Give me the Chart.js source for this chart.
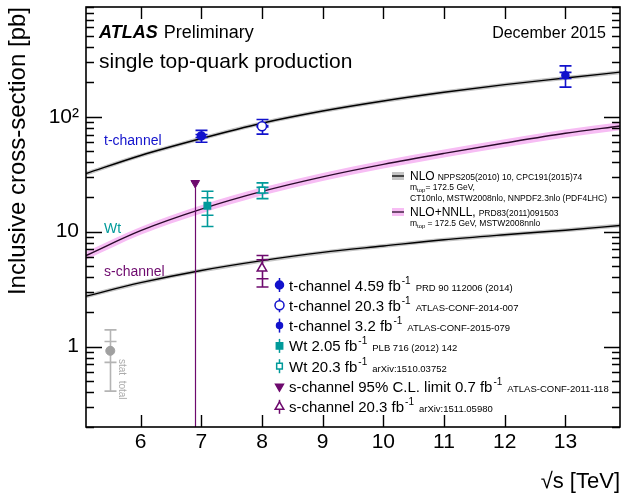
<!DOCTYPE html>
<html><head><meta charset="utf-8">
<script src="https://cdn.jsdelivr.net/npm/chart.js@4.4.1/dist/chart.umd.min.js"></script>
<style>html,body{margin:0;padding:0;background:#fff;}#wrap{width:622px;height:495px;position:relative;}</style>
</head><body><div id="wrap"><canvas id="c"></canvas></div>
<script>
// ---------- data ----------
const energies = [5.1, 6, 7, 8, 9, 10, 11, 12, 13, 13.9];
const tChannelNLO    = [32, 46, 64.6, 87.8, 112, 137, 163, 190, 217, 244];
const tChannelNLOUp  = [33.3, 47.8, 67.2, 91.3, 116.5, 142.5, 169.5, 197.6, 225.7, 253.8];
const tChannelNLODn  = [30.7, 44.2, 62.0, 84.3, 107.5, 131.5, 156.5, 182.4, 208.3, 234.2];
const wtNNLL   = [6.2, 10.2, 15.7, 22.4, 30, 38.5, 48, 59, 71.7, 83];
const wtNNLLUp = [6.7, 11.0, 17.0, 24.2, 32.4, 41.6, 51.8, 63.7, 77.4, 89.6];
const wtNNLLDn = [5.7, 9.4, 14.4, 20.6, 27.6, 35.4, 44.2, 54.3, 66.0, 76.4];
const sChannelNLO   = [2.75, 3.6, 4.6, 5.6, 6.6, 7.5, 8.5, 9.4, 10.3, 11.3];
const sChannelNLOUp = [2.86, 3.74, 4.78, 5.82, 6.86, 7.8, 8.84, 9.78, 10.71, 11.75];
const sChannelNLODn = [2.64, 3.46, 4.42, 5.38, 6.34, 7.2, 8.16, 9.02, 9.89, 10.85];

// measurements
const tMeasX = [7, 8, 13];
const tMeasY = [68, 82.6, 229];
const tStat  = [2, 1.2, 14];
const tTotUp = [8, 12.1, 48];
const tTotDn = [8, 12.1, 48];

const wtMeasX = [7.1, 8];
const wtMeasY = [16.8, 23.0];
const wtStat  = [2.9, 1.3];
const wtTotUp = [5.7, 3.6];
const wtTotDn = [5.7, 3.6];

const sMeasX = [8];
const sMeasY = [4.8];
const sStat  = [0.9];
const sTotUp = [1.4];
const sTotDn = [1.5];

const sLimitX = [6.9];
const sLimitY = [26.5];

// stat / total key
const keyX = [5.5];
const keyY = [0.92];
const keyStat = [0.19];
const keyTotUp = [0.48];
const keyTotDn = [0.51];

const xTickValues = [6, 7, 8, 9, 10, 11, 12, 13];
const yTickValues = [0.2,0.3,0.4,0.5,0.6,0.7,0.8,0.9,1,2,3,4,5,6,7,8,9,10,20,30,40,50,60,70,80,90,100,200,300,400,500,600,700,800,900];
const yMajorLabels = {1: '1', 10: '10', 100: '10²'};

const legendMain = ['t-channel 4.59 fb', 't-channel 20.3 fb', 't-channel 3.2 fb', 'Wt 2.05 fb', 'Wt 20.3 fb', 's-channel 95% C.L. limit 0.7 fb', 's-channel 20.3 fb'];
const legendRefs = ['PRD 90 112006 (2014)', 'ATLAS-CONF-2014-007', 'ATLAS-CONF-2015-079', 'PLB 716 (2012) 142', 'arXiv:1510.03752', 'ATLAS-CONF-2011-118', 'arXiv:1511.05980'];

// ---------- style ----------
const FONT = '"Liberation Sans", Arial, Helvetica, sans-serif';
Chart.defaults.font.family = FONT;
Chart.defaults.color = '#000';
const BLUE = '#1212cc', TEAL = '#009a9a', PURPLE = '#6e0a6e', GREY = '#a0a0a0';
const BAND_GREY = '#c4c4c4', BAND_PINK = '#f7bdf4';

const pts = (xs, ys) => xs.map((x, i) => ({x, y: ys[i]}));
const errs = (stat, up, dn) => stat.map((s, i) => ({stat: s, up: up[i], dn: dn[i]}));

const datasets = [
  {label:'t', data: pts(tMeasX, tMeasY), err: errs(tStat, tTotUp, tTotDn), showLine:false, order:0,
   pointStyle:'circle', pointRadius:[4,4.5,3.5], pointBackgroundColor:[BLUE,'#fff',BLUE], pointBorderColor:BLUE, pointBorderWidth:1.5, errColor:BLUE},
  {label:'wt', data: pts(wtMeasX, wtMeasY), err: errs(wtStat, wtTotUp, wtTotDn), showLine:false, order:0,
   pointStyle:'rect', pointRadius:[4.5,4], pointBackgroundColor:[TEAL,'#fff'], pointBorderColor:TEAL, pointBorderWidth:1.5, errColor:TEAL},
  {label:'s', data: pts(sMeasX, sMeasY), err: errs(sStat, sTotUp, sTotDn), showLine:false, order:0,
   pointStyle:'triangle', pointRadius:5.5, pointBackgroundColor:'#fff', pointBorderColor:PURPLE, pointBorderWidth:1.5, errColor:PURPLE},
  {label:'slim', data: pts(sLimitX, sLimitY), limit:true, showLine:false, order:0,
   pointStyle:'triangle', pointRotation:180, pointRadius:5, pointBackgroundColor:PURPLE, pointBorderColor:PURPLE, pointBorderWidth:1, errColor:PURPLE},
  {label:'key', data: pts(keyX, keyY), err: errs(keyStat, keyTotUp, keyTotDn), showLine:false, order:0,
   pointStyle:'circle', pointRadius:4.5, pointBackgroundColor:GREY, pointBorderColor:GREY, pointBorderWidth:1, errColor:'#b4b4b4'},
  {label:'tNLO', data: pts(energies, tChannelNLO), borderColor:'#000', borderWidth:1.4, pointRadius:0, fill:false, cubicInterpolationMode:'monotone', order:5},
  {label:'wtNNLL', data: pts(energies, wtNNLL), borderColor:'#2a0a2a', borderWidth:1.4, pointRadius:0, fill:false, cubicInterpolationMode:'monotone', order:5},
  {label:'sNLO', data: pts(energies, sChannelNLO), borderColor:'#000', borderWidth:1.4, pointRadius:0, fill:false, cubicInterpolationMode:'monotone', order:5},
  {label:'tUp', data: pts(energies, tChannelNLOUp), borderWidth:0, pointRadius:0, backgroundColor:BAND_GREY, fill:'+1', cubicInterpolationMode:'monotone', order:10},
  {label:'tDn', data: pts(energies, tChannelNLODn), borderWidth:0, pointRadius:0, fill:false, cubicInterpolationMode:'monotone', order:10},
  {label:'wtUp', data: pts(energies, wtNNLLUp), borderWidth:0, pointRadius:0, backgroundColor:BAND_PINK, fill:'+1', cubicInterpolationMode:'monotone', order:10},
  {label:'wtDn', data: pts(energies, wtNNLLDn), borderWidth:0, pointRadius:0, fill:false, cubicInterpolationMode:'monotone', order:10},
  {label:'sUp', data: pts(energies, sChannelNLOUp), borderWidth:0, pointRadius:0, backgroundColor:BAND_GREY, fill:'+1', cubicInterpolationMode:'monotone', order:10},
  {label:'sDn', data: pts(energies, sChannelNLODn), borderWidth:0, pointRadius:0, fill:false, cubicInterpolationMode:'monotone', order:10},
];

// ---------- plugins ----------
const errorBars = {
  id: 'errorBars',
  beforeDatasetDraw(chart, args) {
    const ds = chart.data.datasets[args.index];
    if (!ds.err && !ds.limit) return;
    const {ctx, chartArea: a} = chart;
    const xs = chart.scales.x, ys = chart.scales.y;
    ctx.save();
    ctx.beginPath(); ctx.rect(a.left, a.top, a.right - a.left, a.bottom - a.top); ctx.clip();
    ctx.strokeStyle = ds.errColor; ctx.lineWidth = 1.6;
    ds.data.forEach((p, i) => {
      const px = Math.round(xs.getPixelForValue(p.x)) + 0.5;
      if (ds.limit) {
        ctx.lineWidth = 1.2;
        ctx.beginPath(); ctx.moveTo(px, ys.getPixelForValue(p.y)); ctx.lineTo(px, ys.getPixelForValue(ys.min)); ctx.stroke();
        return;
      }
      const e = ds.err[i];
      const yT = ys.getPixelForValue(p.y + e.up), yB = ys.getPixelForValue(p.y - e.dn);
      const sT = ys.getPixelForValue(p.y + e.stat), sB = ys.getPixelForValue(p.y - e.stat);
      const hw = 6;
      ctx.beginPath();
      ctx.moveTo(px, yT); ctx.lineTo(px, yB);
      [yT, yB, sT, sB].forEach(yy => { ctx.moveTo(px - hw, yy); ctx.lineTo(px + hw, yy); });
      ctx.stroke();
    });
    ctx.restore();
  }
};

function rich(ctx, x, y, parts) {
  let cx = x;
  parts.forEach(p => {
    ctx.font = (p.style ? p.style + ' ' : '') + p.size + 'px ' + FONT;
    ctx.fillStyle = p.color || '#000';
    cx += (p.pre || 0);
    ctx.fillText(p.t, cx, y + (p.dy || 0));
    cx += ctx.measureText(p.t).width;
  });
  return cx;
}

const decorations = {
  id: 'decorations',
  afterDatasetsDraw(chart) {
    const {ctx, chartArea: a} = chart;
    const xs = chart.scales.x, ys = chart.scales.y;
    ctx.save();
    ctx.strokeStyle = '#000'; ctx.lineWidth = 1.6;
    ctx.strokeRect(a.left, a.top, a.right - a.left, a.bottom - a.top);
    ctx.lineWidth = 1.4;
    ctx.beginPath();
    xs.ticks.forEach(t => {
      const px = Math.round(xs.getPixelForValue(t.value)) + 0.5;
      ctx.moveTo(px, a.bottom); ctx.lineTo(px, a.bottom - 12);
      ctx.moveTo(px, a.top); ctx.lineTo(px, a.top + 12);
    });
    ys.ticks.forEach(t => {
      const py = Math.round(ys.getPixelForValue(t.value)) + 0.5;
      const len = (t.value in yMajorLabels) ? 16 : 8;
      ctx.moveTo(a.left, py); ctx.lineTo(a.left + len, py);
      ctx.moveTo(a.right, py); ctx.lineTo(a.right - len, py);
    });
    ctx.stroke();

    ctx.textBaseline = 'alphabetic'; ctx.textAlign = 'left';
    let e = rich(ctx, 99, 38, [{t:'ATLAS', size:18, style:'italic bold'}]);
    rich(ctx, e + 6, 38, [{t:'Preliminary', size:18}]);
    ctx.textAlign = 'right';
    rich(ctx, 606, 38, [{t:'December 2015', size:16}]);
    ctx.textAlign = 'left';
    rich(ctx, 99, 68, [{t:'single top-quark production', size:21}]);

    rich(ctx, 104, 145, [{t:'t-channel', size:14, color:BLUE}]);
    rich(ctx, 104, 233, [{t:'Wt', size:14, color:TEAL}]);
    rich(ctx, 104, 276, [{t:'s-channel', size:14, color:PURPLE}]);

    ctx.fillStyle = BAND_GREY; ctx.fillRect(392, 172, 12, 8);
    ctx.fillStyle = BAND_PINK; ctx.fillRect(392, 208, 12, 8);
    ctx.strokeStyle = '#000'; ctx.lineWidth = 1.3;
    ctx.beginPath(); ctx.moveTo(392, 176); ctx.lineTo(404, 176); ctx.stroke();
    ctx.strokeStyle = '#2a0a2a';
    ctx.beginPath(); ctx.moveTo(392, 212); ctx.lineTo(404, 212); ctx.stroke();
    e = rich(ctx, 410, 180, [{t:'NLO', size:12}]);
    rich(ctx, e + 3, 180, [{t:'NPPS205(2010) 10, CPC191(2015)74', size:8.5}]);
    e = rich(ctx, 410, 190, [{t:'m', size:8.5}, {t:'top', size:6, dy:2}]);
    rich(ctx, e, 190, [{t:'= 172.5 GeV,', size:8.5}]);
    rich(ctx, 410, 201, [{t:'CT10nlo, MSTW2008nlo, NNPDF2.3nlo (PDF4LHC)', size:8.5}]);
    e = rich(ctx, 410, 216, [{t:'NLO+NNLL,', size:12}]);
    rich(ctx, e + 3, 216, [{t:'PRD83(2011)091503', size:8.5}]);
    e = rich(ctx, 410, 226, [{t:'m', size:8.5}, {t:'top', size:6, dy:2}]);
    rich(ctx, e + 2, 226, [{t:'= 172.5 GeV, MSTW2008nnlo', size:8.5}]);

    const mk = [
      {style:'circle', r:4, fill:BLUE, col:BLUE},
      {style:'circle', r:4.5, fill:'#fff', col:BLUE},
      {style:'circle', r:3, fill:BLUE, col:BLUE},
      {style:'rect', r:4.5, fill:TEAL, col:TEAL},
      {style:'rect', r:4, fill:'#fff', col:TEAL},
      {style:'triangle', r:4.5, fill:PURPLE, col:PURPLE, rot:180, noBar:true},
      {style:'triangle', r:5, fill:'#fff', col:PURPLE},
    ];
    legendMain.forEach((txt, i) => {
      const cy = 285 + i * 20.3;
      const m = mk[i];
      ctx.strokeStyle = m.col; ctx.lineWidth = 1.5;
      if (!m.noBar) { ctx.beginPath(); ctx.moveTo(279.5, cy - 7); ctx.lineTo(279.5, cy + 7); ctx.stroke(); }
      ctx.fillStyle = m.fill; ctx.strokeStyle = m.col; ctx.lineWidth = 1.5;
      Chart.helpers.drawPoint(ctx, {pointStyle: m.style, radius: m.r, rotation: m.rot || 0, borderWidth: 1.5}, 279.5, cy);
      let x2 = rich(ctx, 289, cy + 5.5, [{t:txt, size:15}, {t:'-1', size:10, dy:-7, pre:1}]);
      rich(ctx, x2 + 5, cy + 5.5, [{t:legendRefs[i], size:9.5}]);
    });

    ctx.save();
    ctx.translate(119, 359); ctx.rotate(Math.PI / 2);
    rich(ctx, 0, 0, [{t:'stat  total', size:10, color:'#aaaaaa'}]);
    ctx.restore();

    ctx.restore();
  }
};

const noPad = s => { s.paddingTop = 0; s.paddingBottom = 0; s.paddingLeft = 0; s.paddingRight = 0; };

new Chart(document.getElementById('c'), {
  type: 'line',
  data: { datasets },
  options: {
    responsive: true, maintainAspectRatio: false, animation: false,
    layout: { autoPadding: false, padding: { top: 7, right: 2, left: 0, bottom: 0 } },
    plugins: { legend: { display: false }, tooltip: { enabled: false } },
    elements: { line: { tension: 0 } },
    scales: {
      x: {
        type: 'linear', min: 5.1, max: 13.9,
        grid: { display: false, drawTicks: false }, border: { display: false },
        afterBuildTicks: s => { s.ticks = xTickValues.map(v => ({value: v})); },
        afterFit: s => { s.height = 68; noPad(s); },
        ticks: { font: { size: 21 }, color: '#000', padding: 3, autoSkip: false, maxRotation: 0, callback: v => String(v) },
        title: { display: true, text: '√s [TeV]', align: 'end', font: { size: 22 }, color: '#000', padding: { top: 0, bottom: 0 } }
      },
      y: {
        type: 'logarithmic', min: 0.2, max: 900,
        grid: { display: false, drawTicks: false }, border: { display: false },
        afterBuildTicks: s => { s.ticks = yTickValues.map(v => ({value: v})); },
        afterFit: s => { s.width = 86; noPad(s); },
        ticks: { font: { size: 21 }, color: '#000', padding: 7, autoSkip: false, callback: v => yMajorLabels[v] || '' },
        title: { display: true, text: 'Inclusive cross-section [pb]', align: 'end', font: { size: 24 }, color: '#000', padding: { top: 4, bottom: 0 } }
      }
    }
  },
  plugins: [errorBars, decorations]
});
</script>
</body></html>
